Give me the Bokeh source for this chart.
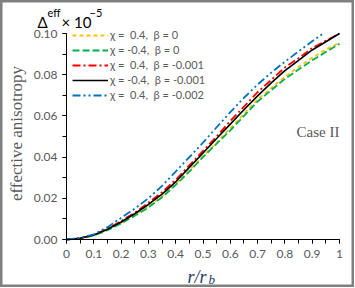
import math
from bokeh.plotting import figure
from bokeh.models import FixedTicker, NumeralTickFormatter, Label, Legend, LegendItem
from bokeh.embed import file_html
from bokeh.resources import INLINE

# ---- data ----
r = [0.00, 0.05, 0.10, 0.15, 0.20, 0.25, 0.30, 0.35, 0.40, 0.45, 0.50,
     0.55, 0.60, 0.65, 0.70, 0.75, 0.80, 0.85, 0.90, 0.95, 1.00]
yellow_chi04_b0 = [0, 0.0005, 0.0020, 0.0047, 0.0080, 0.0120, 0.0160, 0.0210, 0.0270, 0.0335, 0.0405,
                   0.0470, 0.0540, 0.0610, 0.0680, 0.0735, 0.0790, 0.0838, 0.0882, 0.0922, 0.0955]
green_chim04_b0 = [0, 0.0005, 0.0020, 0.0045, 0.0078, 0.0115, 0.0155, 0.0205, 0.0265, 0.0330, 0.0400,
                   0.0465, 0.0530, 0.0600, 0.0670, 0.0725, 0.0780, 0.0825, 0.0870, 0.0910, 0.0950]
red_chi04_bm001 = [0, 0.0006, 0.0022, 0.0052, 0.0090, 0.0130, 0.0178, 0.0230, 0.0290, 0.0360, 0.0430,
                   0.0500, 0.0575, 0.0645, 0.0715, 0.0775, 0.0835, 0.0880, 0.0930, 0.0965, 0.1000]
black_chim04_bm001 = [0, 0.0006, 0.0022, 0.0050, 0.0085, 0.0125, 0.0170, 0.0220, 0.0280, 0.0350, 0.0420,
                      0.0490, 0.0560, 0.0630, 0.0697, 0.0760, 0.0820, 0.0870, 0.0920, 0.0960, 0.1000]
r_blue = [0.00, 0.05, 0.10, 0.15, 0.20, 0.25, 0.30, 0.35, 0.40, 0.45, 0.50,
          0.55, 0.60, 0.65, 0.70, 0.75, 0.80, 0.85, 0.90, 0.94]
blue_chi04_bm002 = [0, 0.0007, 0.0025, 0.0060, 0.0105, 0.0150, 0.0200, 0.0260, 0.0330, 0.0400, 0.0470,
                    0.0545, 0.0618, 0.0688, 0.0752, 0.0810, 0.0863, 0.0913, 0.0962, 0.1000]

series_labels = ["χ =  0.4,  β = 0", "χ = -0.4,  β = 0", "χ =  0.4,  β = -0.001",
                 "χ = -0.4,  β = -0.001", "χ =  0.4,  β = -0.002"]
x_ticks = [0, 0.1, 0.2, 0.3, 0.4, 0.5, 0.6, 0.7, 0.8, 0.9, 1.0]
y_ticks = [0, 0.02, 0.04, 0.06, 0.08, 0.10]

# ---- layout (pixels of the canvas) ----
W, H = 354, 287
FL, FR, FT, FB = 66, 339, 33, 239   # where data x 0..1 and y 0..0.1 lie
XMAX, YMAX = 1.0, 0.1


def dx(px):
    return (px - FL) / (FR - FL) * XMAX


def dy(py):
    return (FB - py) / (FB - FT) * YMAX


p = figure(width=W, height=H, x_range=(dx(0), dx(W)), y_range=(dy(H), dy(0)),
           output_backend="svg", toolbar_location=None,
           min_border_left=0, min_border_right=0, min_border_top=0, min_border_bottom=0)
p.title.visible = False
p.grid.visible = False
p.background_fill_color = "white"
p.border_fill_color = "white"
p.outline_line_color = "#808080"
p.outline_line_width = 4

p.xaxis.fixed_location = 0
p.yaxis.fixed_location = 0
p.xaxis.bounds = (0, XMAX)
p.yaxis.bounds = (0, YMAX)

for ax in (p.xaxis[0], p.yaxis[0]):
    ax.axis_line_color = "black"
    ax.axis_line_width = 1
    ax.major_tick_line_color = "black"
    ax.minor_tick_line_color = "black"
    ax.major_tick_out = 4
    ax.major_tick_in = 0
    ax.minor_tick_out = 4
    ax.minor_tick_in = 0
    ax.major_label_text_font = "Lato"
    ax.major_label_text_font_size = "12px"
    ax.major_label_text_color = "#595959"

p.xaxis.ticker = FixedTicker(ticks=x_ticks, minor_ticks=[i * 0.05 for i in range(21)])
p.yaxis.ticker = FixedTicker(ticks=y_ticks, minor_ticks=[i * 0.01 for i in range(11)])
p.xaxis.formatter = NumeralTickFormatter(format="0.[0]")
p.yaxis.formatter = NumeralTickFormatter(format="0.00")
p.xaxis.major_label_standoff = 6
p.yaxis.major_label_standoff = 5

styles = [
    (r, yellow_chi04_b0, "#FFC000", "4 3", 1.8),
    (r, green_chim04_b0, "#00B050", "7 3", 1.8),
    (r, red_chi04_bm001, "#FF0000", "8 3 2 3", 1.8),
    (r, black_chim04_bm001, "#000000", "solid", 1.6),
    (r_blue, blue_chi04_bm002, "#0070C0", "8 3 2 3 2 3", 1.8),
]
items = []
for (xs, ys, col, dash, lw), lab in zip(styles, series_labels):
    rr = p.line(xs, ys, line_color=col, line_dash=dash, line_width=lw)
    items.append(LegendItem(label=lab, renderers=[rr]))

legend = Legend(items=items, location=(72, 186), border_line_color=None,
                background_fill_alpha=0, padding=0, margin=0, spacing=2,
                glyph_width=36, glyph_height=12, label_height=12,
                label_standoff=2, label_text_font="Lato",
                label_text_font_size="11px", label_text_color="#595959")
p.add_layout(legend, "center")

# ---- texts ----
p.add_layout(Label(x=dx(16), y=dy(133), text="effective anisotropy", angle=math.pi / 2,
                   text_align="center", text_baseline="middle",
                   text_font="Liberation Serif", text_font_size="17px", text_color="#595959"))
p.add_layout(Label(x=dx(339), y=dy(131), text="Case II", text_align="right",
                   text_baseline="alphabetic", text_font="Liberation Serif",
                   text_font_size="15px", text_color="#595959"))
p.add_layout(Label(x=dx(187), y=dy(276), text="r/r", text_align="left",
                   text_baseline="alphabetic", text_font="Liberation Serif",
                   text_font_style="italic", text_font_size="18px", text_color="#1F3864"))
p.add_layout(Label(x=dx(208), y=dy(279), text="b", text_align="left",
                   text_baseline="alphabetic", text_font="Liberation Serif",
                   text_font_style="italic", text_font_size="13px", text_color="#1F3864"))
p.add_layout(Label(x=dx(37), y=dy(21), text="Δ", text_align="left",
                   text_baseline="alphabetic", text_font="Lato",
                   text_font_size="15px", text_color="#000000"))
p.add_layout(Label(x=dx(47), y=dy(12), text="eff", text_align="left",
                   text_baseline="alphabetic", text_font="Lato",
                   text_font_size="11px", text_color="#000000"))
p.add_layout(Label(x=dx(61), y=dy(21), text="× 10", text_align="left",
                   text_baseline="alphabetic", text_font="Lato",
                   text_font_size="15px", text_color="#000000"))
p.add_layout(Label(x=dx(89), y=dy(12), text="−5", text_align="left",
                   text_baseline="alphabetic", text_font="Lato",
                   text_font_size="11px", text_color="#000000"))

open("out.html", "w").write(file_html(p, INLINE))
